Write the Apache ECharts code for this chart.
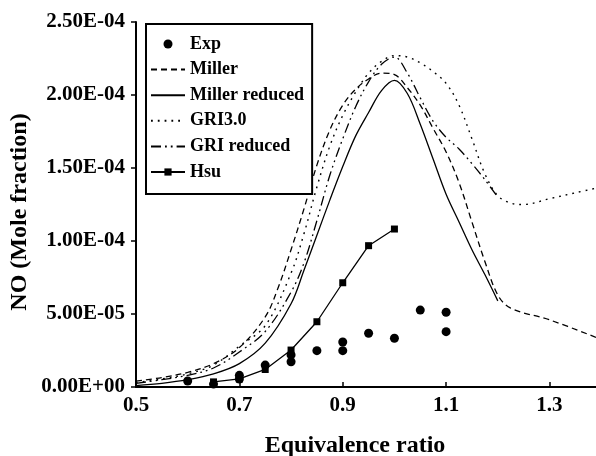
<!DOCTYPE html>
<html>
<head>
<meta charset="utf-8">
<script src="https://cdn.jsdelivr.net/npm/echarts@6/dist/echarts.min.js"></script>
<style>
html,body{margin:0;padding:0;background:#fff;}
#c{width:596px;height:456px;}
</style>
</head>
<body>
<div id="c"></div>
<script>
// ---- tick labels ----
const xTicks = [0.5, 0.7, 0.9, 1.1, 1.3];
const xTickLabels = ['0.5', '0.7', '0.9', '1.1', '1.3'];
const yTickLabels = ['0.00E+00', '5.00E-05', '1.00E-04', '1.50E-04', '2.00E-04', '2.50E-04'];

// ---- Exp (scatter) ----
const expPhi = [0.6, 0.65, 0.7, 0.7, 0.75, 0.8, 0.8, 0.85, 0.9, 0.9, 0.95, 1.0, 1.05, 1.1, 1.1];
const expNO  = [4.1e-6, 2.0e-6, 8.0e-6, 5.5e-6, 1.5e-5, 1.73e-5, 2.2e-5, 2.49e-5, 2.49e-5, 3.08e-5, 3.68e-5, 3.34e-5, 5.27e-5, 5.12e-5, 3.79e-5];

// ---- Miller ----
const millerPhi = [0.5, 0.55, 0.6, 0.65, 0.7, 0.75, 0.775, 0.8, 0.825, 0.85, 0.875, 0.9, 0.925, 0.95, 0.975, 1.0, 1.025, 1.05, 1.075, 1.1, 1.125, 1.15, 1.175, 1.2, 1.225, 1.3, 1.39];
const millerNO  = [4.0e-6, 6.5e-6, 1.0e-5, 1.6e-5, 2.7e-5, 4.8e-5, 6.8e-5, 9.4e-5, 1.22e-4, 1.52e-4, 1.76e-4, 1.93e-4, 2.04e-4, 2.11e-4, 2.15e-4, 2.14e-4, 2.05e-4, 1.93e-4, 1.77e-4, 1.61e-4, 1.40e-4, 1.13e-4, 8.6e-5, 6.3e-5, 5.4e-5, 4.6e-5, 3.4e-5];

// ---- Miller reduced ----
const millerRedPhi = [0.5, 0.55, 0.6, 0.65, 0.7, 0.75, 0.8, 0.825, 0.85, 0.875, 0.9, 0.925, 0.95, 0.975, 1.0, 1.025, 1.05, 1.075, 1.1, 1.125, 1.15, 1.175, 1.2];
const millerRedNO  = [1.0e-6, 2.5e-6, 5.0e-6, 9.0e-6, 1.6e-5, 3.0e-5, 5.7e-5, 8.0e-5, 1.04e-4, 1.28e-4, 1.51e-4, 1.72e-4, 1.88e-4, 2.03e-4, 2.10e-4, 2.01e-4, 1.80e-4, 1.56e-4, 1.32e-4, 1.13e-4, 9.4e-5, 7.7e-5, 5.9e-5];

// ---- GRI3.0 ----
const gri30Phi = [0.5, 0.55, 0.6, 0.65, 0.7, 0.75, 0.8, 0.825, 0.85, 0.875, 0.9, 0.925, 0.95, 0.975, 1.0, 1.025, 1.05, 1.075, 1.1, 1.125, 1.15, 1.175, 1.2, 1.225, 1.25, 1.3, 1.35, 1.4];
const gri30NO  = [3.0e-6, 5.5e-6, 9.0e-6, 1.5e-5, 2.8e-5, 4.2e-5, 7.8e-5, 1.05e-4, 1.37e-4, 1.65e-4, 1.86e-4, 2.02e-4, 2.15e-4, 2.23e-4, 2.27e-4, 2.26e-4, 2.22e-4, 2.16e-4, 2.08e-4, 1.93e-4, 1.70e-4, 1.46e-4, 1.31e-4, 1.26e-4, 1.25e-4, 1.29e-4, 1.33e-4, 1.37e-4];

// ---- GRI reduced ----
const griRedPhi = [0.5, 0.55, 0.6, 0.65, 0.7, 0.75, 0.8, 0.825, 0.85, 0.875, 0.9, 0.925, 0.95, 0.975, 1.0, 1.025, 1.05, 1.075, 1.1, 1.125, 1.15, 1.175, 1.2];
const griRedNO  = [2.5e-6, 5.0e-6, 8.0e-6, 1.3e-5, 2.4e-5, 3.8e-5, 6.5e-5, 8.5e-5, 1.14e-4, 1.45e-4, 1.70e-4, 1.92e-4, 2.09e-4, 2.21e-4, 2.26e-4, 2.15e-4, 1.98e-4, 1.82e-4, 1.71e-4, 1.63e-4, 1.53e-4, 1.42e-4, 1.30e-4];

// ---- Hsu ----
const hsuPhi = [0.65, 0.7, 0.75, 0.8, 0.85, 0.9, 0.95, 1.0];
const hsuNO  = [3.5e-6, 5.5e-6, 1.2e-5, 2.53e-5, 4.47e-5, 7.14e-5, 9.68e-5, 1.082e-4];

const seriesNames = ['Exp', 'Miller', 'Miller reduced', 'GRI3.0', 'GRI reduced', 'Hsu'];

function pairs(xs, ys) { return xs.map((x, i) => [x, ys[i]]); }

const FONT = 'Liberation Serif';
const chart = echarts.init(document.getElementById('c'), null, {renderer: 'canvas'});

const lineBase = {type: 'line', symbol: 'none', smooth: 0.35, lineStyle: {color: '#000', width: 1.3}, itemStyle: {color: '#000'}, z: 3};
const noSym = {color: 'rgba(0,0,0,0)', borderWidth: 0, opacity: 0};

chart.setOption({
  animation: false,
  backgroundColor: '#fff',
  grid: {left: 136, right: 0, top: 22, bottom: 69, containLabel: false},
  xAxis: {
    type: 'value', min: 0.5, max: 1.39, interval: 0.2,
    splitLine: {show: false},
    axisLine: {show: true, onZero: false, lineStyle: {color: '#000', width: 2}},
    axisTick: {show: true, inside: true, length: 5, lineStyle: {color: '#000', width: 1.5}},
    axisLabel: {
      margin: 8, color: '#000', fontFamily: FONT, fontWeight: 'bold', fontSize: 21,
      showMaxLabel: false,
      formatter: function (v) {
        for (let i = 0; i < xTicks.length; i++) { if (Math.abs(v - xTicks[i]) < 1e-6) return xTickLabels[i]; }
        return '';
      }
    }
  },
  yAxis: {
    type: 'value', min: 0, max: 2.5e-4, interval: 5e-5,
    splitLine: {show: false},
    axisLine: {show: true, lineStyle: {color: '#000', width: 2}},
    axisTick: {show: true, inside: false, length: 5, lineStyle: {color: '#000', width: 1.5}},
    axisLabel: {
      margin: 11, color: '#000', fontFamily: FONT, fontWeight: 'bold', fontSize: 21,
      formatter: function (v) { return yTickLabels[Math.round(v / 5e-5)]; }
    }
  },
  legend: {
    orient: 'vertical', left: 146, top: 24,
    data: [
      {name: seriesNames[0]},
      {name: seriesNames[1], itemStyle: noSym},
      {name: seriesNames[2], itemStyle: noSym},
      {name: seriesNames[3], itemStyle: noSym},
      {name: seriesNames[4], itemStyle: noSym},
      {name: seriesNames[5]}
    ],
    backgroundColor: '#fff', borderColor: '#000', borderWidth: 2,
    padding: [11, 8, 13, 4],
    itemWidth: 34, itemHeight: 9, itemGap: 7.6,
    textStyle: {color: '#000', fontFamily: FONT, fontWeight: 'bold', fontSize: 18},
    z: 10
  },
  graphic: [
    {type: 'text', x: 355, y: 446, style: {text: 'Equivalence ratio', font: 'bold 24px "Liberation Serif"', fill: '#000', align: 'center', verticalAlign: 'middle'}},
    {type: 'text', x: 20, y: 212, rotation: Math.PI / 2, style: {text: 'NO (Mole fraction)', font: 'bold 24px "Liberation Serif"', fill: '#000', align: 'center', verticalAlign: 'middle'}}
  ],
  series: [
    {name: 'Exp', type: 'scatter', symbol: 'circle', symbolSize: 9, itemStyle: {color: '#000', opacity: 1}, data: pairs(expPhi, expNO), z: 4},
    Object.assign({}, lineBase, {name: 'Miller', lineStyle: {color: '#000', width: 1.3, type: [6, 4]}, data: pairs(millerPhi, millerNO)}),
    Object.assign({}, lineBase, {name: 'Miller reduced', lineStyle: {color: '#000', width: 1.3, type: 'solid'}, data: pairs(millerRedPhi, millerRedNO)}),
    Object.assign({}, lineBase, {name: 'GRI3.0', lineStyle: {color: '#000', width: 1.4, type: [1.8, 5]}, data: pairs(gri30Phi, gri30NO)}),
    Object.assign({}, lineBase, {name: 'GRI reduced', lineStyle: {color: '#000', width: 1.3, type: [10, 4, 1.8, 4, 1.8, 4]}, data: pairs(griRedPhi, griRedNO)}),
    {name: 'Hsu', type: 'line', symbol: 'rect', symbolSize: 7, smooth: false, lineStyle: {color: '#000', width: 1.3}, itemStyle: {color: '#000'}, data: pairs(hsuPhi, hsuNO), z: 4}
  ]
});
</script>
</body>
</html>
